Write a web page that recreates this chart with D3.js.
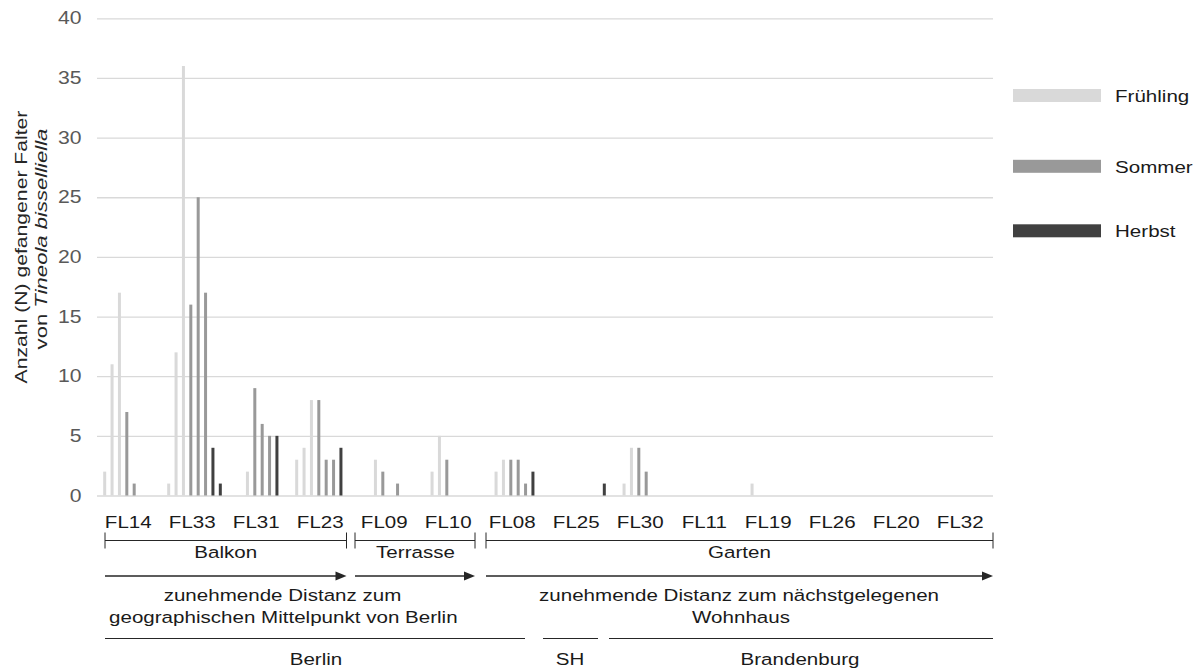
<!DOCTYPE html>
<html>
<head>
<meta charset="utf-8">
<script src="https://cdn.jsdelivr.net/npm/d3@7"></script>
<style>
  html, body { margin: 0; padding: 0; background: #fff; }
  svg { display: block; font-family: "Liberation Sans", Arial, sans-serif; }
</style>
</head>
<body>
<svg id="chart" width="1202" height="670"></svg>
<script>
// ---------- data ----------
const categories = ["FL14","FL33","FL31","FL23","FL09","FL10","FL08","FL25","FL30","FL11","FL19","FL26","FL20","FL32"];
const seriesKeys = ["fr1","fr2","fr3","so1","so2","so3","he1","he2"];
const seriesSeason = ["Frühling","Frühling","Frühling","Sommer","Sommer","Sommer","Herbst","Herbst"];
const fr1 = [2,1,0,3,0,0,0,0,0,0,0,0,0,0];
const fr2 = [11,12,0,4,0,2,2,0,1,0,1,0,0,0];
const fr3 = [17,36,2,8,3,5,3,0,4,0,0,0,0,0];
const so1 = [7,16,9,8,2,3,3,0,4,0,0,0,0,0];
const so2 = [1,25,6,3,0,0,3,0,2,0,0,0,0,0];
const so3 = [0,17,5,3,1,0,1,0,0,0,0,0,0,0];
const he1 = [0,4,5,4,0,0,2,0,0,0,0,0,0,0];
const he2 = [0,1,0,0,0,0,0,1,0,0,0,0,0,0];
const seasons = ["Frühling","Sommer","Herbst"];
const yTicks = [0,5,10,15,20,25,30,35,40];
const seriesValues = [fr1,fr2,fr3,so1,so2,so3,he1,he2];

// ---------- styles ----------
const colors = {"Frühling":"#d9d9d9","Sommer":"#999999","Herbst":"#404040"};
const K = 1.21; // horizontal glyph stretch of the reference typography

const svg = d3.select("#chart");
const plotL = 97, plotR = 993, plotT = 18.3, plotB = 495.5;

const x0 = d3.scaleBand().domain(categories).range([plotL, plotR]);
const x1 = d3.scaleBand().domain(d3.range(seriesKeys.length)).range([4, x0.bandwidth() - 1]);
const y = d3.scaleLinear().domain([0, 40]).range([plotB, plotT]);

// ---------- grid + y axis ----------
const yAxis = d3.axisLeft(y).tickValues(yTicks).tickSizeInner(-(plotR - plotL)).tickSizeOuter(0).tickPadding(12.7);
const ga = svg.append("g").attr("transform", `translate(${plotL},0)`).call(yAxis);
ga.select(".domain").remove();
ga.selectAll(".tick line").attr("stroke", "#d9d9d9").attr("stroke-width", 1.3);
ga.selectAll(".tick text")
  .attr("fill", "#595959")
  .attr("font-size", 17.5)
  .attr("font-family", "Liberation Sans, Arial, sans-serif")
  .attr("transform", `scale(${K},1)`);

// ---------- bars ----------
const barW = 3;
const data = [];
categories.forEach((c, ci) => {
  seriesKeys.forEach((k, si) => {
    data.push({cat: c, si, season: seriesSeason[si], v: seriesValues[si][ci]});
  });
});
svg.append("g").selectAll("rect").data(data.filter(d => d.v > 0)).join("rect")
  .attr("x", d => x0(d.cat) + x1(d.si) + x1.bandwidth() / 2 - barW / 2)
  .attr("y", d => y(d.v))
  .attr("width", barW)
  .attr("height", d => y(0) - y(d.v))
  .attr("fill", d => colors[d.season]);

// ---------- text helper ----------
function stext(str, x, yy, opt = {}) {
  const t = svg.append("text")
    .attr("transform", `translate(${x},${yy}) rotate(${opt.rot || 0}) scale(${opt.k || K},1)`)
    .attr("text-anchor", opt.anchor || "middle")
    .attr("font-size", opt.size || 17)
    .attr("fill", opt.fill || "#1a1a1a");
  if (opt.parts) {
    opt.parts.forEach(p => t.append("tspan").attr("font-style", p.italic ? "italic" : "normal").text(p.t));
  } else t.text(str);
  return t;
}

// ---------- category labels ----------
categories.forEach(c => stext(c, x0(c) + x0.bandwidth() / 2 - 0.7, 528.3, {size: 17}));

// ---------- y axis title ----------
stext("Anzahl (N) gefangener Falter", 27, 247, {rot: -90, size: 17, k: 1.245, fill: "#262626"});
stext(null, 47, 239, {rot: -90, size: 17, k: 1.3, fill: "#262626",
  parts: [{t: "von "}, {t: "Tineola bisselliella", italic: true}]});

// ---------- brackets ----------
const ink = "#262626";
const bx = (c, off) => x0(c) + off;
const brackets = [
  {name: "Balkon", x1: bx("FL14", 8), x2: bx("FL23", x0.bandwidth() - 6.5)},
  {name: "Terrasse", x1: bx("FL09", 2), x2: bx("FL10", x0.bandwidth() - 6), labelX: 415.5},
  {name: "Garten", x1: bx("FL08", 5), x2: bx("FL32", x0.bandwidth())}
];
const bY = 540.5;
brackets.forEach(b => {
  svg.append("line").attr("x1", b.x1).attr("x2", b.x2).attr("y1", bY).attr("y2", bY).attr("stroke", ink).attr("stroke-width", 1);
  [b.x1, b.x2].forEach(xx => svg.append("line").attr("x1", xx).attr("x2", xx).attr("y1", bY - 8).attr("y2", bY + 8).attr("stroke", ink).attr("stroke-width", 1));
  stext(b.name, b.labelX || (b.x1 + b.x2) / 2, 558, {size: 17});
});

// ---------- arrows ----------
const aY = 576;
brackets.forEach(b => {
  svg.append("line").attr("x1", b.x1).attr("x2", b.x2 - 9).attr("y1", aY).attr("y2", aY).attr("stroke", ink).attr("stroke-width", 1.3);
  svg.append("path").attr("d", `M${b.x2 - 11},${aY - 4.5}L${b.x2},${aY}L${b.x2 - 11},${aY + 4.5}Z`).attr("fill", ink);
});

stext("zunehmende Distanz zum", 282.5, 601, {size: 17});
stext("geographischen Mittelpunkt von Berlin", 283.3, 623, {size: 17});
stext("zunehmende Distanz zum nächstgelegenen", 739, 601, {size: 17});
stext("Wohnhaus", 741, 623, {size: 17});

// ---------- region lines ----------
const regions = [
  {name: "Berlin", x1: 105, x2: 525, lx: 316},
  {name: "SH", x1: 543, x2: 598, lx: 570},
  {name: "Brandenburg", x1: 609, x2: 993, lx: 800}
];
regions.forEach(r => {
  svg.append("line").attr("x1", r.x1).attr("x2", r.x2).attr("y1", 638.5).attr("y2", 638.5).attr("stroke", ink).attr("stroke-width", 1);
  stext(r.name, r.lx, 665, {size: 17});
});

// ---------- legend ----------
const legY = {"Frühling": 95.5, "Sommer": 166.3, "Herbst": 230.8};
seasons.forEach(s => {
  svg.append("rect").attr("x", 1013).attr("y", legY[s] - 6.5).attr("width", 88).attr("height", 13).attr("fill", colors[s]);
  stext(s, 1115, legY[s] + 6.2, {anchor: "start", size: 17});
});
</script>
</body>
</html>
